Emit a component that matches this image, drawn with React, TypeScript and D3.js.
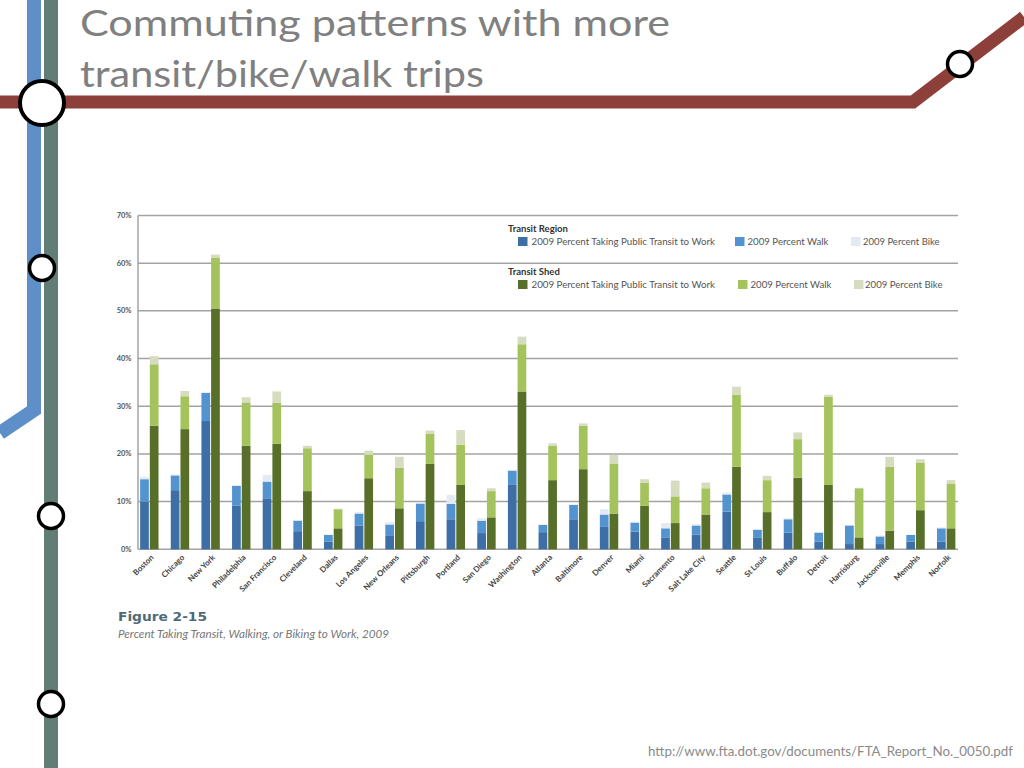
import React from "react";
import * as d3 from "d3";

const cities = ["Boston","Chicago","New York","Philadelphia","San Francisco","Cleveland","Dallas","Los Angeles","New Orleans","Pittsburgh","Portland","San Diego","Washington","Atlanta","Baltimore","Denver","Miami","Sacramento","Salt Lake City","Seattle","St Louis","Buffalo","Detroit","Harrisburg","Jacksonville","Memphis","Norfolk"];

const regionTransit = [10.0,12.4,26.9,9.2,10.7,3.8,1.6,5.0,2.8,5.9,6.3,3.4,13.5,3.6,6.3,4.7,3.7,2.4,3.1,7.9,2.4,3.5,1.6,1.1,1.1,1.6,1.6];
const regionWalk = [4.7,3.1,5.9,4.1,3.5,2.2,1.4,2.5,2.4,3.7,3.2,2.6,3.0,1.5,3.0,2.6,1.9,2.0,1.9,3.6,1.7,2.8,1.9,3.9,1.6,1.4,2.8];
const regionBike = [0.5,0.2,0.1,0.2,1.4,0.1,0.1,0.3,0.5,0.3,1.9,0.5,0.2,0.1,0.1,1.1,0.2,1.1,0.3,0.4,0.1,0.2,0.1,0.1,0.2,0.1,0.2];

const shedTransit = [25.9,25.2,50.5,21.7,22.1,12.2,4.4,14.9,8.6,17.9,13.5,6.7,33.1,14.5,16.8,7.5,9.1,5.5,7.3,17.3,7.8,15.0,13.5,2.5,3.9,8.2,4.4];
const shedWalk = [12.9,6.9,10.7,9.1,8.6,9.0,4.0,4.9,8.5,6.3,8.4,5.5,9.9,7.2,9.1,10.5,4.9,5.6,5.5,15.1,6.7,8.1,18.5,10.3,13.4,10.0,9.3];
const shedBike = [1.7,1.1,0.6,1.1,2.4,0.5,0.1,0.9,2.3,0.7,3.1,0.6,1.6,0.5,0.5,1.8,0.7,3.3,1.2,1.7,0.9,1.4,0.4,0.1,2.1,0.7,0.8];

const yTicks = [0,10,20,30,40,50,60,70];
const modeKeys = ["transit","walk","bike"];
const modeLabels = ["2009 Percent Taking Public Transit to Work","2009 Percent Walk","2009 Percent Bike"];
const groups = ["region","shed"];
const groupTitles = ["Transit Region","Transit Shed"];
const colors: Record<string,string[]> = {
  region: ["#3d6ea6","#5293d0","#e3eaf1"],
  shed: ["#586f2a","#a5c35d","#d5dcc0"],
};

const regionRows = cities.map((c,i)=>({city:c, transit:regionTransit[i], walk:regionWalk[i], bike:regionBike[i]}));
const shedRows = cities.map((c,i)=>({city:c, transit:shedTransit[i], walk:shedWalk[i], bike:shedBike[i]}));

export default function App() {
  const W = 1024, H = 768;
  const x = d3.scaleBand<string>().domain(cities).range([134, 961.5]).paddingInner(0).paddingOuter(0);
  const step = x.step();
  const inner = d3.scaleBand<string>().domain(groups).range([step/2 - 9.2, step/2 + 9.2]).paddingInner(0.1);
  const y = d3.scaleLinear().domain([0,70]).range([549.3, 215.5]);
  const stack = d3.stack<any>().keys(modeKeys);
  const stacks: Record<string, any[]> = { region: stack(regionRows), shed: stack(shedRows) };
  const font = "Lato, 'Open Sans', sans-serif";
  const legendRows = [
    { title: 232.3, sw: 237, text: 244.5, sx: [518,735,851], tx: [531.5,747.5,863], tw: [183.5,81,76.5] },
    { title: 275, sw: 280, text: 287.7, sx: [518,738,854], tx: [531.5,750.5,865], tw: [183.5,81,77.5] },
  ];
  return (
    <svg width={W} height={H} style={{position:"absolute", left:0, top:0, background:"#fff"}}>
      {/* slide decorations */}
      <path d="M34,0 L34,410 L0,433" fill="none" stroke="#5e8fc9" strokeWidth={14} />
      <line x1={51} y1={0} x2={51} y2={768} stroke="#617d75" strokeWidth={14} />
      <path d="M0,102 L913,102 L1024,17" fill="none" stroke="#8c4039" strokeWidth={13} />
      <circle cx={42} cy={103} r={22} fill="#fff" stroke="#000" strokeWidth={4} />
      <circle cx={960} cy={64} r={12.5} fill="#fff" stroke="#000" strokeWidth={3.5} />
      <circle cx={42} cy={268} r={12.5} fill="#fff" stroke="#000" strokeWidth={3.5} />
      <circle cx={51} cy={516} r={12.5} fill="#fff" stroke="#000" strokeWidth={3.5} />
      <circle cx={51} cy={704} r={12.5} fill="#fff" stroke="#000" strokeWidth={3.5} />

      {/* title */}
      <text x={80} y={36} fontFamily={font} fontSize={37} fill="#808080" textLength={590} lengthAdjust="spacingAndGlyphs">Commuting patterns with more</text>
      <text x={80} y={87} fontFamily={font} fontSize={37} fill="#808080" textLength={404} lengthAdjust="spacingAndGlyphs">transit/bike/walk trips</text>

      {/* gridlines */}
      {yTicks.map(t => (
        <line key={"g"+t} x1={138} x2={958} y1={y(t)} y2={y(t)} stroke="#a3a3a3" strokeWidth={1.5} />
      ))}
      <line x1={138} x2={138} y1={y(70)} y2={y(0)} stroke="#a3a3a3" strokeWidth={1.5} />
      {yTicks.map(t => (
        <text key={"yt"+t} x={131.5} y={y(t)+2.5} textAnchor="end" fontFamily={font} fontWeight={700} fontSize={7.5} fill="#555">{t + "%"}</text>
      ))}

      {/* bars */}
      {groups.map(g => stacks[g].map((layer: any, li: number) => layer.map((d: any) => (
        <rect key={g+li+d.data.city}
          x={(x(d.data.city) as number) + (inner(g) as number)}
          width={inner.bandwidth()}
          y={y(d[1])}
          height={Math.max(0, y(d[0]) - y(d[1]))}
          fill={colors[g][li]} />
      ))))}

      {/* x labels */}
      {cities.map(c => {
        const cx = (x(c) as number) + step/2 + 5;
        const cy = 558;
        return (
          <text key={"xl"+c} x={cx} y={cy} transform={`rotate(-45 ${cx} ${cy})`} textAnchor="end" fontFamily={font} fontWeight={700} fontSize={8} fill="#444">{c}</text>
        );
      })}

      {/* legend */}
      {groups.map((g, gi) => {
        const r = legendRows[gi];
        return (
          <g key={"lg"+g}>
            <text x={508} y={r.title} fontFamily={font} fontWeight={700} fontSize={9.5} fill="#333">{groupTitles[gi]}</text>
            {modeKeys.map((k, ki) => (
              <g key={k}>
                <rect x={r.sx[ki]} y={r.sw} width={9.5} height={9} fill={colors[g][ki]} />
                <text x={r.tx[ki]} y={r.text} fontFamily={font} fontSize={9} fill="#555" textLength={r.tw[ki]} lengthAdjust="spacingAndGlyphs">{modeLabels[ki]}</text>
              </g>
            ))}
          </g>
        );
      })}

      {/* figure caption */}
      <text x={118} y={620.5} fontFamily="'DejaVu Sans', sans-serif" fontWeight={700} fontSize={13} fill="#4f6a77" textLength={89} lengthAdjust="spacingAndGlyphs">Figure 2-15</text>
      <text x={118} y={638} fontFamily={font} fontStyle="italic" fontSize={11} fill="#777" textLength={271} lengthAdjust="spacingAndGlyphs">Percent Taking Transit, Walking, or Biking to Work, 2009</text>

      {/* source */}
      <text x={648} y={756} fontFamily={font} fontSize={12.5} fill="#8a8a8a" textLength={365} lengthAdjust="spacingAndGlyphs">http://www.fta.dot.gov/documents/FTA_Report_No._0050.pdf</text>
    </svg>
  );
}
